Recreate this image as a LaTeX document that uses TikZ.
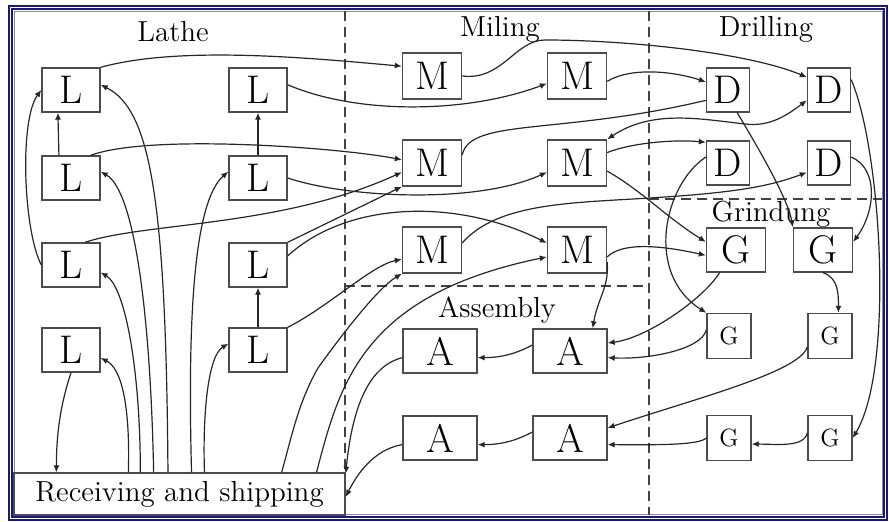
\documentclass[tikz,border=0pt]{standalone}
\usepackage{fontspec}
\usetikzlibrary{arrows.meta}
\definecolor{framenavy}{RGB}{25,25,120}

\begin{document}
\begin{tikzpicture}[x=0.5pt,y=-0.5pt,>={Latex[length=3.5pt,width=3pt]},
    mach/.style={draw=black!70,line width=0.7pt,inner sep=0pt,minimum height=22pt,font=\fontsize{20}{20}\selectfont},
    lbox/.style={mach,minimum width=29pt},
    mbox/.style={mach,minimum width=29.5pt,minimum height=23pt},
    dbox/.style={mach,minimum width=21.5pt},
    gbox/.style={mach,minimum width=29.5pt},
    sgbox/.style={mach,minimum width=22pt,minimum height=22.5pt,font=\fontsize{12.5}{13}\selectfont},
    abox/.style={mach,minimum width=37pt},
    dept/.style={anchor=base,font=\fontsize{14.5}{15}\selectfont},
    border/.style={dash pattern=on 5pt off 3pt,line width=0.6pt,black!75},
    flow/.style={->,line width=0.6pt,black!85}]
    \useasboundingbox (0,0) rectangle (889,522);
    % frame and department borders
    \draw[framenavy,double=white,double distance=0.7pt,line width=0.8pt] (10.5,7.5) rectangle (885.5,518.5);
    \draw[black!45,line width=0.5pt] (14,11.5) rectangle (882,515);
    \draw[border] (345,11.5) -- (345,515);
    \draw[border] (649,11.5) -- (649,515);
    \draw[border] (345,286) -- (649,286);
    \draw[border] (649,199) -- (882,199);

    \node[dept] at (173,42) {Lathe};
    \node[dept] at (500,37) {Miling};
    \node[dept] at (766,37) {Drilling};
    \node[dept] at (771,222) {Grindung};
    \node[dept] at (497,318) {Assembly};

    % machines
    \node[lbox] (l11) at (71,90) {L};
    \node[lbox] (l21) at (71,178) {L};
    \node[lbox] (l31) at (71,265) {L};
    \node[lbox] (l41) at (71,350) {L};
    \node[lbox] (l12) at (258,90) {L};
    \node[lbox] (l22) at (258,178) {L};
    \node[lbox] (l32) at (258,265) {L};
    \node[lbox] (l42) at (258,350) {L};
    \node[mbox] (m11) at (432,76) {M};
    \node[mbox] (m12) at (577,76) {M};
    \node[mbox] (m21) at (432,163) {M};
    \node[mbox] (m22) at (577,163) {M};
    \node[mbox] (m31) at (432,250) {M};
    \node[mbox] (m32) at (577,250) {M};
    \node[dbox] (d11) at (728,90) {D};
    \node[dbox] (d12) at (829,90) {D};
    \node[dbox] (d21) at (728,163) {D};
    \node[dbox] (d22) at (829,163) {D};
    \node[gbox] (g11) at (736,250) {G};
    \node[gbox] (g12) at (823,250) {G};
    \node[sgbox] (g21) at (729,336) {G};
    \node[sgbox] (g22) at (830,336) {G};
    \node[sgbox] (g31) at (729,438) {G};
    \node[sgbox] (g32) at (830,438) {G};
    \node[abox] (a11) at (440,351) {A};
    \node[abox] (a12) at (570,351) {A};
    \node[abox] (a21) at (440,438) {A};
    \node[abox] (a22) at (570,438) {A};
    \node[draw=black!70,line width=0.7pt,inner sep=0pt,minimum width=165.5pt,minimum height=21pt,
        font=\fontsize{14.5}{15}\selectfont] (recv) at (179.5,494) {Receiving and shipping};

    % lathe
    \draw[flow] (l21.118) -- (l11.240);
    \draw[flow] (l22.north) -- (l12.south);
    \draw[flow] (l42.north) -- (l32.south);
    \draw[flow] (l31.west) .. controls +(-18,-35) and +(-22,30) .. (l11.west);
    \draw[flow] (l41.south) .. controls +(-10,30) and +(0,-40) .. (recv.170.2);
    \draw[flow] (recv.157.8) .. controls +(2,-70) and +(20,10) .. (l41.-15);
    \draw[flow] (recv.151.4) .. controls +(0,-100) and +(25,15) .. (l31.-14);
    \draw[flow] (recv.140.5) .. controls +(-3,-150) and +(35,20) .. (l21.12);
    \draw[flow] (recv.118.7) .. controls +(-2,-273) and +(50,25) .. (l11.10);
    \draw[flow] (recv.61.3) .. controls +(-4,-150) and +(-35,30) .. (l22.168);
    \draw[flow] (recv.41.8) .. controls +(-2,-60) and +(-20,12) .. (l42.168);

    % lathe to milling
    \draw[flow] (l11.north east) .. controls +(80,-22) and +(-90,-8) .. (m11.162);
    \draw[flow] (l12.10) .. controls +(70,30) and +(-80,30) .. (m12.194);
    \draw[flow] (l21.49) .. controls +(60,-22) and +(-60,-12) .. (m21.174);
    \draw[flow] (l22.east) .. controls +(60,20) and +(-70,32) .. (m22.197);
    \draw[flow] (l31.58) .. controls +(60,-20) and +(-120,55) .. (m21.197);
    \draw[flow] (l32.north east) -- (m21.south west);
    \draw[flow] (l32.17) .. controls +(60,-55) and +(-90,-45) .. (m32.167);
    \draw[flow] (l42.north east) .. controls +(40,-20) and +(-30,6) .. (m31.197);
    \draw[flow] (recv.12.5) .. controls +(10,-35) and +(-20,35) .. (318,368)
        .. controls +(20,-28) and +(-25,15) .. (m31.south west);
    \draw[flow] (recv.9.65) .. controls +(23,-88) and +(-185,38) .. (m32.193);

    % milling to drilling and grinding
    \draw[flow] (m11.east) .. controls +(40,5) and +(-30,0) .. (545,40)
        .. controls +(80,0) and +(-60,-25) .. (d12.150);
    \draw[flow] (m12.-10) .. controls +(25,-15) and +(-30,-10) .. (d11.160);
    \draw[line width=0.6pt,black!85] (m21.15) .. controls +(8,-37) and +(-147,35) .. (d11.205);
    \draw[flow,<->] (m22.north east) .. controls +(45,-30) and +(-45,-5) .. (745,124)
        .. controls +(25,3) and +(-20,15) .. (d12.205);
    \draw[flow] (m22.19) .. controls +(25,-10) and +(-30,-3) .. (d21.137);
    \draw[flow] (m22.-15) .. controls +(35,20) and +(-40,-25) .. (g11.165);
    \draw[flow] (m32.-13) .. controls +(15,-15) and +(-45,-10) .. (g11.190);
    \draw[flow] (m32.-22) .. controls +(2,25) and +(5,-30) .. (a12.45);
    \draw[flow] (m31.13) .. controls +(35,-40) and +(-80,5) .. (650,198)
        .. controls +(80,-5) and +(-40,15) .. (d22.203);

    % drilling to grinding
    \draw[flow] (d11.-68) .. controls +(15,25) and +(-5,-30) .. (g12.north west);
    \draw[flow] (d21.165) .. controls +(-42,28) and +(-62,-39) .. (g21.north west);
    \draw[flow] (d22.15) .. controls +(28,12) and +(22,-30) .. (g12.15);
    \draw[flow] (d12.25) .. controls +(30,70) and +(42,-70) .. (g32.east);

    % grinding to assembly
    \draw[flow] (g11.234) .. controls +(-15,25) and +(40,-5) .. (a12.12);
    \draw[flow] (g21.165) .. controls +(-5,20) and +(40,2) .. (a12.-10);
    \draw[flow] (g12.south) .. controls +(15,5) and +(0,-20) .. (g22.70);
    \draw[flow] (g22.206) .. controls +(-8,25) and +(90,-30) .. (a22.15);
    \draw[flow] (g32.167) .. controls +(-3,15) and +(25,0) .. (g31.-15);
    \draw[flow] (g31.west) .. controls +(-8,8) and +(40,0) .. (a22.-10);

    % assembly to shipping
    \draw[flow] (a12.171) .. controls +(-15,8) and +(25,0) .. (a11.-10);
    \draw[flow] (a22.171) .. controls +(-15,8) and +(25,0) .. (a21.-10);
    \draw[flow] (a11.190) .. controls +(-40,10) and +(5,-50) .. (recv.7.8);
    \draw[flow] (a21.190) .. controls +(-30,5) and +(10,-20) .. (recv.-1.4);
\end{tikzpicture}
\end{document}
